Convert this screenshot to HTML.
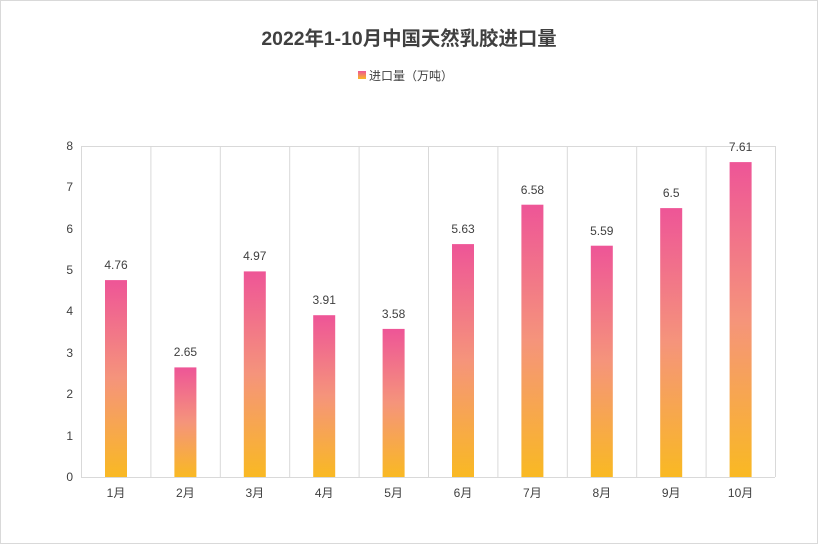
<!DOCTYPE html>
<html><head><meta charset="utf-8"><style>
body{margin:0;background:#fff;}
svg{display:block;font-family:"Liberation Sans","Noto Sans CJK SC",sans-serif;}
</style></head><body>
<svg width="819" height="552" viewBox="0 0 819 552">
<defs>
<linearGradient id="g" x1="0" y1="0" x2="0" y2="1">
<stop offset="0" stop-color="#ee5597"/>
<stop offset="0.5" stop-color="#f5947b"/>
<stop offset="1" stop-color="#f9b923"/>
</linearGradient>
<linearGradient id="lg" x1="0" y1="0" x2="0" y2="1">
<stop offset="0" stop-color="#ee5597"/>
<stop offset="1" stop-color="#f9b923"/>
</linearGradient>
</defs>
<rect x="0.5" y="0.5" width="817" height="543" fill="#fff" stroke="#d9d9d9"/>
<text x="409" y="45" text-anchor="middle" font-size="19.4" font-weight="bold" fill="#404040">2022年1-10月中国天然乳胶进口量</text>
<rect x="358" y="71" width="8" height="8" fill="url(#lg)"/>
<text x="369" y="80" font-size="12" fill="#404040">进口量（万吨）</text>
<g stroke="#d9d9d9" stroke-width="1">
<line x1="81" y1="146.5" x2="775" y2="146.5"/>
<line x1="81.5" y1="146" x2="81.5" y2="477"/>
<line x1="150.9" y1="146" x2="150.9" y2="477"/>
<line x1="220.3" y1="146" x2="220.3" y2="477"/>
<line x1="289.7" y1="146" x2="289.7" y2="477"/>
<line x1="359.1" y1="146" x2="359.1" y2="477"/>
<line x1="428.5" y1="146" x2="428.5" y2="477"/>
<line x1="497.9" y1="146" x2="497.9" y2="477"/>
<line x1="567.3" y1="146" x2="567.3" y2="477"/>
<line x1="636.7" y1="146" x2="636.7" y2="477"/>
<line x1="706.1" y1="146" x2="706.1" y2="477"/>
<line x1="775.5" y1="146" x2="775.5" y2="477"/>
<line x1="81" y1="477.5" x2="775" y2="477.5"/>
</g>
<g font-size="12" fill="#404040" text-anchor="end">
<text x="73" y="481">0</text><text x="73" y="440">1</text><text x="73" y="398">2</text><text x="73" y="357">3</text><text x="73" y="315">4</text><text x="73" y="274">5</text><text x="73" y="233">6</text><text x="73" y="191">7</text><text x="73" y="150">8</text>
</g>
<g font-size="12" fill="#404040" text-anchor="middle">
<rect x="105" y="280.1" width="22" height="196.9" fill="url(#g)"/><text x="116" y="269">4.76</text><text x="116" y="497">1月</text>
<rect x="174.4" y="367.4" width="22" height="109.6" fill="url(#g)"/><text x="185.4" y="356">2.65</text><text x="185.4" y="497">2月</text>
<rect x="243.8" y="271.4" width="22" height="205.6" fill="url(#g)"/><text x="254.8" y="260">4.97</text><text x="254.8" y="497">3月</text>
<rect x="313.2" y="315.2" width="22" height="161.8" fill="url(#g)"/><text x="324.2" y="304">3.91</text><text x="324.2" y="497">4月</text>
<rect x="382.6" y="328.9" width="22" height="148.1" fill="url(#g)"/><text x="393.6" y="318">3.58</text><text x="393.6" y="497">5月</text>
<rect x="452" y="244.1" width="22" height="232.9" fill="url(#g)"/><text x="463" y="233">5.63</text><text x="463" y="497">6月</text>
<rect x="521.4" y="204.7" width="22" height="272.3" fill="url(#g)"/><text x="532.4" y="194">6.58</text><text x="532.4" y="497">7月</text>
<rect x="590.8" y="245.7" width="22" height="231.3" fill="url(#g)"/><text x="601.8" y="235">5.59</text><text x="601.8" y="497">8月</text>
<rect x="660.2" y="208.1" width="22" height="268.9" fill="url(#g)"/><text x="671.2" y="197">6.5</text><text x="671.2" y="497">9月</text>
<rect x="729.6" y="162.1" width="22" height="314.9" fill="url(#g)"/><text x="740.6" y="151">7.61</text><text x="740.6" y="497">10月</text>
</g>
</svg>
</body></html>
